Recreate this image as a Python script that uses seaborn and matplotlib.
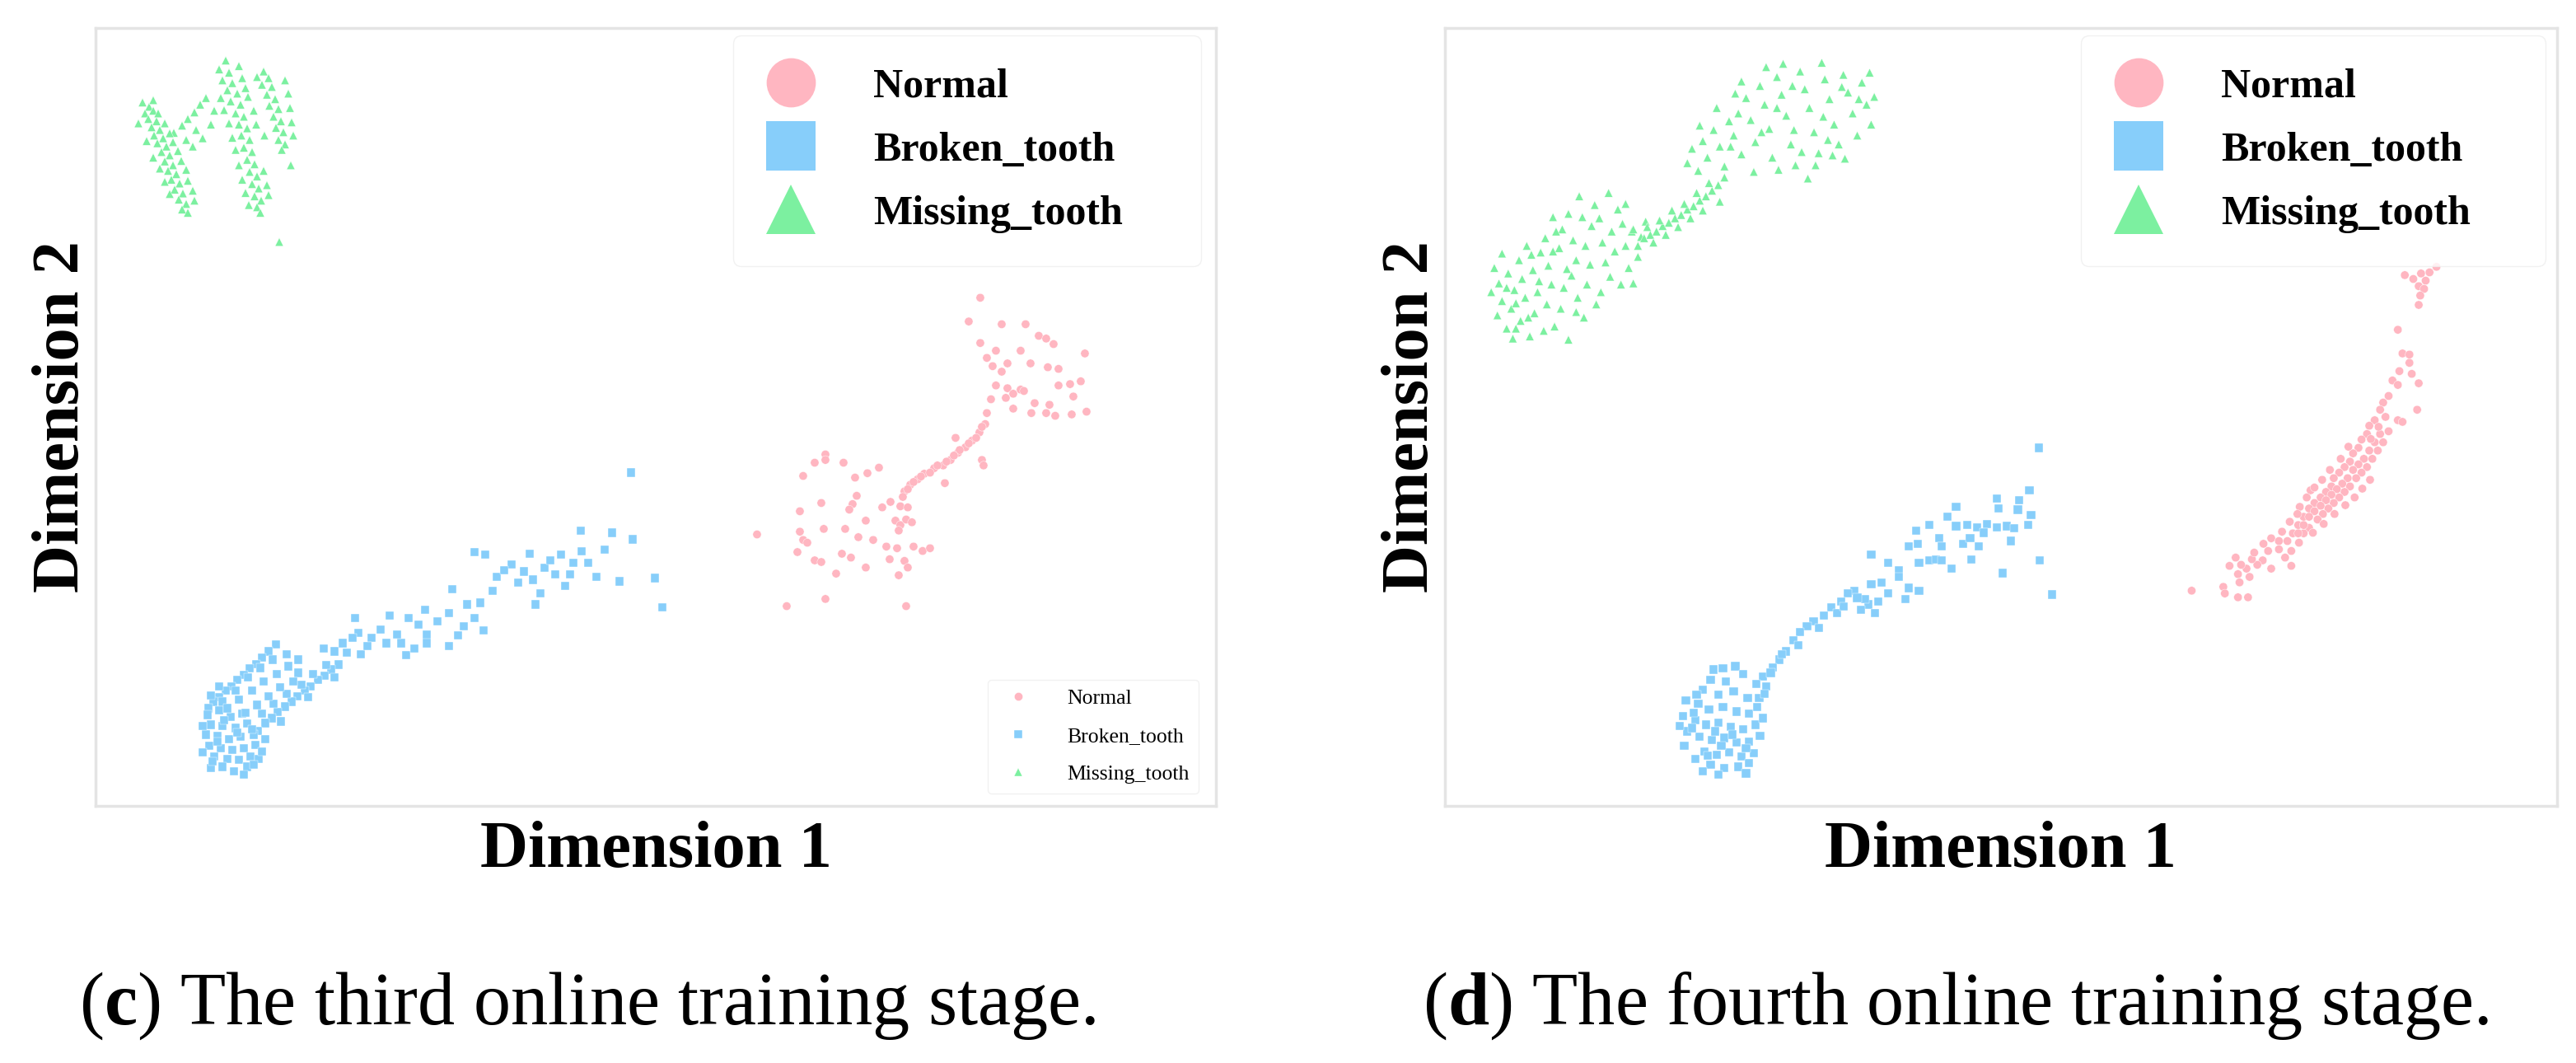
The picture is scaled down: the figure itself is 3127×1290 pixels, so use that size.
import pandas as pd
import matplotlib
matplotlib.use("Agg")
import matplotlib.pyplot as plt
from matplotlib.lines import Line2D
import seaborn as sns

classes = ["Normal", "Broken_tooth", "Missing_tooth"]
colors = ["#FFB6C1", "#87CEFA", "#7CF0A0"]
markers = ["o", "s", "^"]
panel_letters = ["c", "d"]
captions = ["The third online training stage.", "The fourth online training stage."]

# (c) third online training stage -- 2-D embedding
c_normal = [
    (39.4, 21.6), (38.0, 17.3), (42.0, 16.8), (44.9, 16.8), (46.5, 14.7), (47.4, 14.2), (48.3, 13.2),
    (39.4, 13.4), (41.3, 12.0), (44.3, 12.0), (52.1, 11.5), (40.2, 10.7), (40.9, 9.2), (42.0, 8.2),
    (42.7, 9.7), (45.5, 9.7), (47.6, 9.0), (48.9, 8.7), (41.3, 5.7), (42.7, 5.2), (44.3, 4.95),
    (43.4, 4.2), (44.7, 4.7), (40.7, 3.2), (42.5, 3.45), (48.9, 5.7), (50.3, 5.95), (50.7, 3.7),
    (51.6, 6.45), (46.0, 2.5), (43.4, 1.5), (45.6, 0.7), (47.4, 0.7), (47.8, 2.2), (48.5, 0.2),
    (50.5, 0.45), (52.3, 0.95), (40.2, 0.7), (40.0, -1.3), (39.3, -2.8), (38.4, -4.3), (37.6, -5.5),
    (36.7, -6.5), (35.8, -7.8), (34.9, -8.8), (33.8, -9.3), (32.6, -10.3), (31.8, -11.3), (30.9, -12.3),
    (30.2, -13.5), (30.0, -14.5), (39.6, -1.8), (38.9, -3.8), (38.0, -4.8), (36.9, -6.0), (36.2, -7.0),
    (35.3, -8.1), (34.2, -8.8), (33.3, -10.1), (32.2, -10.8), (31.3, -11.8), (30.6, -13.1), (36.4, -3.8),
    (39.6, -7.8), (39.8, -8.8), (35.1, -12.0), (20.6, -6.8), (19.3, -8.3), (20.6, -7.8), (22.8, -8.3),
    (17.9, -10.7), (24.2, -11.0), (25.7, -10.2), (27.1, -9.2), (20.1, -15.6), (17.5, -17.1), (24.4, -14.3),
    (23.9, -15.8), (23.5, -16.8), (27.5, -16.4), (28.5, -15.4), (29.7, -16.2), (30.6, -16.4), (25.5, -18.8),
    (29.1, -18.8), (29.7, -19.6), (30.4, -18.6), (31.1, -19.1), (29.5, -20.6), (12.3, -21.3), (17.5, -20.8),
    (17.9, -22.3), (18.4, -22.8), (20.4, -20.3), (23.0, -20.3), (24.6, -21.8), (26.4, -22.3), (28.0, -23.5),
    (29.3, -23.8), (31.3, -23.5), (32.4, -24.3), (33.3, -23.8), (17.2, -24.5), (19.3, -26.0), (20.1, -26.3),
    (22.6, -24.8), (23.7, -25.5), (25.5, -27.3), (28.4, -25.8), (30.2, -26.1), (30.6, -27.3), (21.9, -28.4),
    (29.5, -28.7), (15.9, -34.3), (20.6, -33.0), (30.4, -34.3),
]
c_broken = [
    (-3.0, -10.1), (-9.1, -20.6), (-5.3, -21.0), (-2.8, -22.2), (-6.2, -24.0), (-0.1, -29.2), (0.8, -34.5),
    (-4.4, -29.8), (-22.0, -24.5), (-20.7, -25.0), (-15.3, -24.8), (-11.5, -25.0), (-10.0, -26.5),
    (-8.2, -26.5), (-17.5, -26.8), (-13.5, -27.3), (-12.2, -28.5), (-10.4, -28.5), (-19.3, -29.0),
    (-16.7, -30.0), (-14.9, -29.5), (-14.0, -32.0), (-14.6, -34.0), (-19.8, -31.5), (-24.7, -31.2),
    (-22.9, -34.0), (-21.3, -33.7), (-32.3, -36.0), (-30.0, -36.5), (-28.0, -35.0), (-26.5, -37.0),
    (-36.5, -36.5), (-25.1, -35.5), (-23.3, -38.0), (-20.9, -38.7), (-36.1, -39.2), (-34.5, -40.0),
    (-32.7, -41.0), (-30.9, -41.0), (-27.8, -39.5), (-27.8, -41.0), (-25.1, -41.5), (-30.3, -43.2),
    (-29.3, -42.0), (-40.3, -42.0), (-39.0, -42.5), (-37.5, -42.7), (-35.8, -43.0), (-38.0, -41.0),
    (-35.0, -41.5), (-46.1, -41.2), (-44.8, -43.0), (-43.4, -44.0),
    (-47.0, -42.5), (-47.8, -43.6), (-48.5, -44.8), (-49.3, -45.6), (-50.0, -46.8), (-50.8, -47.6),
    (-51.5, -48.8), (-52.2, -49.6), (-53.0, -50.8), (-53.7, -51.6), (-54.3, -52.8), (-46.5, -44.0),
    (-48.0, -45.5), (-49.5, -47.2), (-51.0, -49.6), (-52.6, -51.6), (-54.0, -50.5), (-53.0, -48.8),
    (-38.5, -44.9), (-39.4, -45.8), (-40.2, -46.9), (-41.0, -47.6), (-41.9, -48.8), (-42.6, -49.6),
    (-43.5, -50.6), (-44.2, -51.6), (-45.0, -52.5), (-45.9, -53.5), (-46.6, -54.6), (-47.4, -55.5),
    (-48.3, -56.9), (-40.0, -45.0), (-41.6, -46.6), (-43.0, -48.6), (-44.8, -50.2), (-46.4, -52.0),
    (-47.8, -53.8), (-39.0, -47.2), (-42.2, -50.8), (-45.5, -55.2),
    (-54.4, -54.0), (-53.0, -53.2), (-51.6, -54.4), (-50.2, -53.8), (-54.0, -55.8), (-52.6, -56.0),
    (-51.0, -56.4), (-49.6, -55.6), (-54.6, -57.6), (-53.2, -57.8), (-51.8, -58.4), (-50.4, -58.0),
    (-48.8, -57.6), (-54.2, -59.6), (-52.8, -60.0), (-51.4, -60.4), (-50.0, -60.0), (-48.6, -59.4),
    (-53.6, -61.6), (-52.0, -62.0), (-50.6, -62.2), (-49.2, -61.6), (-54.0, -63.6), (-51.2, -64.2),
    (-49.6, -63.4), (-48.2, -62.0), (-53.2, -58.8), (-50.8, -57.2), (-52.4, -55.0), (-49.0, -56.6),
    (-52.0, -52.8), (-50.6, -51.2), (-49.0, -49.6), (-47.6, -48.0), (-46.0, -46.6), (-44.6, -45.2),
    (-43.4, -46.4), (-44.0, -48.0), (-45.6, -49.0), (-47.0, -50.6), (-48.4, -52.2), (-49.8, -53.6),
    (-53.8, -62.4), (-52.6, -63.4), (-50.0, -64.8), (-48.8, -63.0), (-47.8, -60.6), (-47.4, -58.4),
    (-55.0, -56.0), (-55.0, -60.8), (-36.8, -40.0), (-33.4, -38.6), (-31.4, -39.4), (-28.8, -37.6),
    (-24.0, -39.6), (-22.0, -36.4), (-18.4, -27.8), (-12.8, -26.0), (-9.0, -24.4), (-7.2, -29.0),
    (-11.0, -30.6), (-16.0, -28.0),
]
c_missing = [
    (-62.3, 57.0), (-61.5, 56.2), (-62.0, 55.0), (-61.0, 55.5), (-61.6, 54.0), (-60.6, 53.6), (-61.2, 52.5),
    (-60.2, 52.0), (-60.9, 51.0), (-59.8, 50.5), (-60.5, 49.6), (-59.4, 49.0), (-60.0, 48.0), (-59.0, 47.4),
    (-59.6, 46.3), (-58.6, 45.6), (-59.2, 44.6), (-58.2, 44.0), (-58.8, 43.0), (-57.8, 42.3), (-58.4, 41.2),
    (-57.4, 40.5), (-57.9, 39.4), (-57.0, 38.6), (-57.5, 37.6), (-56.8, 37.0),
    (-58.5, 51.5), (-57.5, 52.8), (-56.8, 54.0), (-56.0, 55.2), (-55.3, 56.6), (-54.6, 57.8), (-55.8, 52.0),
    (-57.0, 50.2), (-56.2, 49.0), (-55.0, 50.5), (-54.0, 53.0), (-53.6, 55.5),
    (-52.2, 64.6), (-53.0, 63.0), (-51.8, 62.4), (-52.6, 61.0), (-51.4, 60.5), (-52.0, 59.2), (-50.8, 58.6),
    (-51.6, 57.2), (-50.4, 56.6), (-51.0, 55.0), (-50.0, 54.4), (-50.6, 53.0), (-49.6, 52.3), (-50.3, 51.0),
    (-49.3, 50.2), (-50.0, 48.8), (-49.0, 48.0), (-49.6, 46.6), (-48.7, 45.8), (-49.3, 44.4), (-48.4, 43.6),
    (-49.0, 42.2), (-48.2, 41.4), (-48.7, 40.0), (-47.9, 39.2), (-48.4, 38.0), (-48.0, 37.0),
    (-47.6, 62.6), (-47.0, 61.4), (-47.8, 60.2), (-46.6, 59.8), (-47.2, 58.4), (-46.2, 57.6), (-46.9, 56.4),
    (-45.8, 55.8), (-46.4, 54.4), (-45.5, 53.6), (-46.1, 52.4), (-45.2, 51.6), (-45.8, 50.2), (-45.0, 49.4),
    (-45.4, 48.4), (-49.5, 58.0), (-48.8, 55.5), (-48.5, 53.0), (-47.5, 51.0), (-44.3, 45.6), (-45.7, 31.7),
    (-61.0, 57.4), (-60.4, 55.0), (-59.6, 53.2), (-59.0, 51.4), (-58.6, 49.8), (-58.0, 48.2), (-57.6, 46.4),
    (-57.0, 44.8), (-56.8, 42.8), (-56.2, 41.0), (-56.0, 39.2), (-62.8, 53.2), (-61.8, 50.0), (-61.0, 47.0),
    (-60.2, 45.0), (-59.6, 42.6), (-59.0, 40.4),
    (-50.6, 63.6), (-50.2, 61.4), (-49.8, 59.6), (-52.8, 57.8), (-52.4, 55.6), (-51.8, 53.2), (-51.4, 50.6),
    (-51.0, 48.4), (-50.6, 45.6), (-50.2, 43.0), (-49.8, 40.6), (-49.4, 38.4), (-47.6, 44.6), (-47.2, 42.0),
    (-47.0, 40.2), (-45.0, 61.0), (-44.6, 58.6), (-44.4, 56.0), (-44.2, 53.4), (-44.0, 51.0), (-48.4, 61.6),
]

# (d) fourth online training stage
d_normal = [
    (56.4, 27.2), (55.5, 26.2), (54.4, 26.0), (52.3, 25.7), (53.4, 25.0), (55.0, 24.7), (54.1, 23.7),
    (54.8, 23.2), (54.3, 22.0), (54.1, 20.3), (51.4, 15.8), (52.0, 11.5), (52.9, 11.3), (52.9, 9.8),
    (51.6, 8.3), (53.2, 7.8), (54.1, 6.1), (50.7, 6.6), (51.4, 5.8), (53.9, 1.3), (50.2, 3.8), (49.5, 2.6),
    (49.1, 1.3), (51.4, -0.6), (52.0, -0.9),
    (48.4, -0.6), (47.7, -1.6), (47.4, -3.1), (46.7, -4.1), (46.3, -5.6), (45.6, -6.6), (45.2, -8.1),
    (44.5, -9.1), (43.8, -10.1), (43.1, -11.1), (42.8, -12.6), (42.1, -13.6), (41.4, -14.6), (40.6, -15.6),
    (39.9, -16.6), (39.2, -18.1), (38.5, -19.6), (37.8, -21.1), (37.1, -22.5),
    (50.2, -2.6), (49.5, -4.6), (48.8, -6.1), (48.1, -7.6), (47.4, -9.1), (46.7, -10.1), (46.0, -11.1),
    (45.2, -12.6), (44.5, -13.6), (43.8, -14.6), (43.1, -15.6), (42.4, -16.6), (41.7, -17.6), (41.0, -18.6),
    (39.9, -20.1), (39.2, -21.1),
    (49.1, -3.1), (48.4, -4.6), (47.7, -6.1), (47.0, -7.6), (46.3, -8.6), (45.6, -9.6), (44.9, -11.1),
    (44.2, -12.1), (43.5, -13.1), (42.8, -14.1), (42.1, -15.1), (41.4, -16.1), (40.6, -17.1), (39.9, -18.1),
    (39.2, -19.6), (38.5, -21.1), (40.1, -13.3), (38.7, -16.3),
    (35.0, -22.0), (36.0, -22.5), (34.6, -24.3), (36.0, -24.0), (37.6, -24.3), (36.8, -25.5), (33.9, -26.0),
    (33.2, -26.8), (32.5, -25.8), (31.8, -27.5), (31.1, -26.8), (30.4, -25.5), (30.7, -28.5), (32.2, -29.0),
    (30.9, -30.0), (37.6, -27.0), (35.0, -27.5), (24.7, -31.5), (28.8, -30.8), (29.0, -32.0), (30.7, -32.7),
    (32.0, -32.7),
    (49.8, 0.0), (48.9, -1.8), (47.9, -4.0), (45.0, -5.4), (44.0, -7.6), (42.6, -9.6), (41.6, -11.4),
    (40.6, -12.8), (39.6, -14.6), (38.4, -17.6), (37.4, -19.0), (36.4, -20.8), (47.8, -11.4), (46.8, -13.0),
    (45.8, -14.6), (44.6, -16.0), (43.2, -17.6), (41.8, -19.4), (40.4, -21.0), (38.6, -22.8), (34.0, -23.0),
    (32.8, -24.6), (29.6, -27.0),
]
d_broken = [
    (4.9, -5.6), (3.7, -13.3), (-0.5, -14.8), (2.4, -15.1), (-0.3, -16.6), (2.2, -16.8), (-5.8, -16.3),
    (-6.9, -18.1), (3.9, -17.8), (3.5, -19.6), (-11.0, -20.6), (-9.3, -19.6), (-5.8, -19.8), (-4.4, -19.6),
    (-3.1, -20.0), (-1.8, -19.4), (-0.5, -20.0), (0.8, -19.8), (1.7, -20.2), (-11.9, -23.5), (-10.8, -23.0),
    (-8.0, -22.0), (-7.7, -23.5), (-4.9, -23.0), (-4.0, -22.0), (-2.9, -23.5), (-2.2, -21.0), (1.3, -22.5),
    (-3.8, -25.8), (-16.8, -25.0), (-14.6, -26.5), (-13.2, -27.8), (-10.6, -26.5), (-9.3, -26.0),
    (-8.4, -25.8), (-7.7, -26.0), (-6.4, -27.5), (0.2, -28.3), (5.0, -26.0), (6.6, -32.2),
    (-13.2, -29.0), (-15.45, -30.0), (-16.8, -30.3), (-19.0, -31.5), (-19.85, -32.0), (-20.7, -33.5),
    (-22.0, -34.5), (-22.9, -36.0), (-24.25, -37.0), (-25.1, -38.0), (-26.0, -39.0), (-11.9, -31.0),
    (-10.6, -31.5), (-12.4, -33.0), (-14.6, -32.0), (-15.9, -33.5), (-17.2, -34.0), (-16.3, -35.5),
    (-18.1, -35.0), (-17.6, -33.0), (-21.2, -35.6), (-23.6, -38.2), (-20.4, -34.4), (-18.6, -32.8),
    (-26.9, -40.5), (-27.8, -42.5), (-28.65, -44.0), (-29.5, -45.4), (-30.8, -47.0), (-31.7, -48.4),
    (-30.4, -48.9), (-31.3, -50.9), (-26.2, -41.4), (-28.4, -43.0), (-29.8, -46.4),
    (-36.0, -45.6), (-34.4, -45.2), (-33.4, -46.6), (-37.6, -47.6), (-35.6, -48.0), (-38.6, -49.4),
    (-36.6, -50.4), (-34.6, -49.8), (-32.8, -51.0), (-40.8, -51.4), (-39.2, -52.0), (-37.8, -53.0),
    (-36.0, -52.6), (-34.2, -53.4), (-32.6, -53.8), (-41.2, -54.2), (-39.6, -55.0), (-38.2, -55.8),
    (-36.6, -55.4), (-35.0, -56.2), (-33.4, -56.6), (-31.8, -55.8), (-40.6, -57.0), (-39.0, -58.0),
    (-37.4, -58.6), (-35.8, -58.2), (-34.2, -59.0), (-32.6, -58.8), (-31.2, -57.8), (-41.0, -59.6),
    (-38.4, -60.6), (-36.8, -61.2), (-35.2, -60.8), (-33.6, -61.6), (-32.0, -61.0), (-39.6, -62.0),
    (-37.6, -63.0), (-35.8, -63.6), (-34.0, -63.4), (-32.6, -62.8), (-36.6, -64.8), (-38.6, -64.2),
    (-40.0, -56.4), (-37.0, -57.0), (-34.8, -57.6), (-33.0, -60.0), (-36.2, -59.6), (-38.0, -61.4),
    (-39.8, -53.6), (-31.6, -52.6), (-30.6, -50.2), (-39.4, -50.4), (-41.6, -56.0), (-33.0, -64.6),
    (-30.8, -54.6), (-37.2, -45.8),
]
d_missing = [
    (-65.6, 27.0), (-65.0, 24.2), (-64.6, 21.0), (-65.2, 18.4), (-64.0, 16.0), (-63.4, 19.6), (-63.0, 23.0),
    (-63.8, 26.0), (-62.4, 28.4), (-62.0, 25.0), (-61.6, 21.6), (-62.2, 17.4), (-61.0, 14.6), (-60.4, 18.8),
    (-60.0, 22.6), (-60.6, 26.6), (-59.6, 29.8), (-59.0, 32.4), (-58.6, 27.4), (-58.2, 24.0), (-58.8, 20.4),
    (-57.8, 16.4), (-57.0, 19.6), (-56.6, 23.4), (-57.2, 30.6), (-56.8, 34.0), (-56.0, 36.8), (-55.4, 32.0),
    (-55.0, 28.4), (-55.6, 25.6), (-54.8, 21.6), (-54.0, 18.0), (-53.6, 24.0), (-53.2, 27.6), (-53.8, 31.0),
    (-53.0, 34.6), (-52.6, 38.4), (-52.0, 36.0), (-51.6, 31.6), (-51.2, 28.0), (-51.8, 22.6), (-50.6, 25.4),
    (-50.0, 30.0), (-50.4, 33.6), (-49.6, 37.6), (-49.0, 35.0), (-48.6, 31.0), (-48.2, 27.0), (-47.6, 24.2),
    (-47.0, 29.0), (-46.6, 32.6), (-46.0, 35.4), (-63.2, 14.2), (-59.2, 15.6), (-56.0, 14.0), (-61.4, 31.0),
    (-64.6, 29.6), (-58.0, 36.2), (-54.6, 40.0), (-50.8, 40.6),
    (-64.0, 23.4), (-62.8, 20.6), (-61.2, 18.0), (-59.8, 24.6), (-58.0, 30.0), (-56.2, 26.8), (-55.0, 19.0),
    (-52.4, 20.4), (-49.2, 24.0), (-47.8, 33.6), (-60.8, 29.4), (-57.6, 33.6), (-54.2, 36.2), (-62.8, 16.0),
    (-66.0, 22.6), (-48.6, 38.6),
    (-47.0, 31.0), (-46.2, 32.4), (-45.4, 33.0), (-44.6, 33.6), (-43.8, 34.6), (-43.0, 35.2), (-42.2, 36.0),
    (-41.4, 36.6), (-40.6, 37.6), (-39.8, 38.2), (-39.0, 39.2), (-38.2, 40.0), (-37.4, 41.0), (-36.6, 42.0),
    (-45.8, 34.4), (-44.2, 35.6), (-42.6, 37.4), (-41.0, 38.6), (-39.4, 40.6), (-37.8, 42.4), (-45.0, 31.6),
    (-43.4, 33.0), (-41.8, 34.4), (-40.2, 36.0), (-38.6, 37.4), (-36.4, 39.0), (-47.6, 34.0), (-35.8, 43.4),
    (-40.6, 46.0), (-40.0, 48.6), (-39.2, 44.6), (-38.6, 50.0), (-38.0, 47.0), (-37.2, 52.0), (-36.4, 49.0),
    (-35.8, 45.4), (-35.2, 53.6), (-34.6, 51.0), (-34.0, 55.0), (-33.6, 47.6), (-33.0, 57.8), (-32.4, 53.8),
    (-31.8, 49.8), (-31.2, 60.0), (-30.6, 56.6), (-30.0, 52.2), (-29.6, 47.0), (-29.0, 61.6), (-28.4, 58.4),
    (-27.8, 54.6), (-27.2, 49.4), (-26.6, 45.6), (-26.0, 62.6), (-25.4, 59.4), (-24.8, 56.0), (-24.2, 51.6),
    (-23.6, 47.8), (-23.2, 64.2), (-22.8, 61.2), (-22.2, 57.6), (-21.6, 53.0), (-21.0, 49.4), (-20.4, 62.0),
    (-19.8, 58.8), (-19.2, 55.0), (-18.6, 51.0), (-18.0, 60.6), (-17.4, 56.6), (-16.8, 53.0), (-16.4, 58.0),
    (-25.0, 43.2), (-28.8, 44.8), (-32.0, 44.4), (-36.8, 56.0), (-24.0, 45.6), (-20.2, 46.8), (-30.4, 63.4),
    (-26.8, 52.0), (-34.4, 58.6), (-22.4, 50.2), (-17.0, 62.4),
    (-39.0, 52.8), (-35.0, 49.0), (-31.0, 51.6), (-29.0, 56.0), (-27.0, 60.0), (-23.0, 54.4), (-20.6, 59.8),
    (-18.4, 57.6), (-25.8, 48.0), (-21.8, 47.4), (-33.6, 60.8), (-28.2, 64.0),
]

c_xlim, c_ylim = (-68, 68), (-70.5, 70.5)
d_xlim, d_ylim = (-72, 72), (-70.5, 70.5)


def to_frame(groups):
    rows = []
    for label, pts in zip(classes, groups):
        for x, y in pts:
            rows.append((label, x, y))
    return pd.DataFrame(rows, columns=["label", "x", "y"])


def draw_panel(ax, df, xlim, ylim, small_legend, big_box):
    sns.scatterplot(data=df, x="x", y="y", hue="label", style="label",
                    hue_order=classes, style_order=classes,
                    palette=dict(zip(classes, colors)),
                    markers=dict(zip(classes, markers)),
                    s=54, linewidth=0.3, edgecolor="white",
                    ax=ax, legend=small_legend)
    ax.set_xlim(*xlim)
    ax.set_ylim(*ylim)
    ax.set_xticks([])
    ax.set_yticks([])
    ax.set_xlabel("Dimension 1", fontsize=58, fontweight="bold", labelpad=13)
    ax.set_ylabel("Dimension 2", fontsize=58, fontweight="bold", labelpad=3)
    for sp in ax.spines.values():
        sp.set_color("#e4e4e4")
        sp.set_linewidth(2.5)

    if small_legend:
        sns.move_legend(ax, "lower right", bbox_to_anchor=(0.9846, 0.0159),
                        borderaxespad=0, title=None, fontsize=18.5, frameon=True,
                        edgecolor="#eeeeee", fancybox=True, handletextpad=1.3,
                        borderpad=0.45, labelspacing=0.9)
        ax.add_artist(ax.get_legend())

    # big marker legend, stretched to the width of the box in the figure
    handles = [Line2D([], [], linestyle="none", marker=m, markersize=43,
                      color=c, markeredgewidth=0) for m, c in zip(markers, colors)]
    ax.legend(handles, classes, loc="upper left", bbox_to_anchor=big_box, mode="expand",
              borderaxespad=0, prop={"size": 36, "weight": "bold"},
              labelspacing=0.62, handletextpad=1.4, borderpad=0.8,
              handlelength=1.2, frameon=True, edgecolor="#eeeeee", fancybox=True)


sns.set_style("white")
plt.rcParams["font.family"] = ["Liberation Serif", "DejaVu Serif"]
plt.rcParams["text.color"] = "black"
plt.rcParams["axes.labelcolor"] = "black"
plt.rcParams["mathtext.fontset"] = "custom"
plt.rcParams["mathtext.rm"] = "Liberation Serif"
plt.rcParams["mathtext.bf"] = "Liberation Serif:bold"

fig = plt.figure(figsize=(31.27, 12.9), dpi=100)
ax_c = fig.add_axes([0.0371, 0.2419, 0.4349, 0.7318])
ax_d = fig.add_axes([0.5609, 0.2419, 0.4317, 0.7318])

draw_panel(ax_c, to_frame([c_normal, c_broken, c_missing]), c_xlim, c_ylim, True,
           (0.569, 0.0, 0.418, 0.9905))
draw_panel(ax_d, to_frame([d_normal, d_broken, d_missing]), d_xlim, d_ylim, False,
           (0.572, 0.0, 0.418, 0.9905))

for x0, letter, cap in zip([0.0307, 0.5523], panel_letters, captions):
    fig.text(x0, 0.0364, r"($\mathbf{%s}$) %s" % (letter, cap), fontsize=65, va="baseline")

fig.savefig("out.png", dpi=100, facecolor="white")
